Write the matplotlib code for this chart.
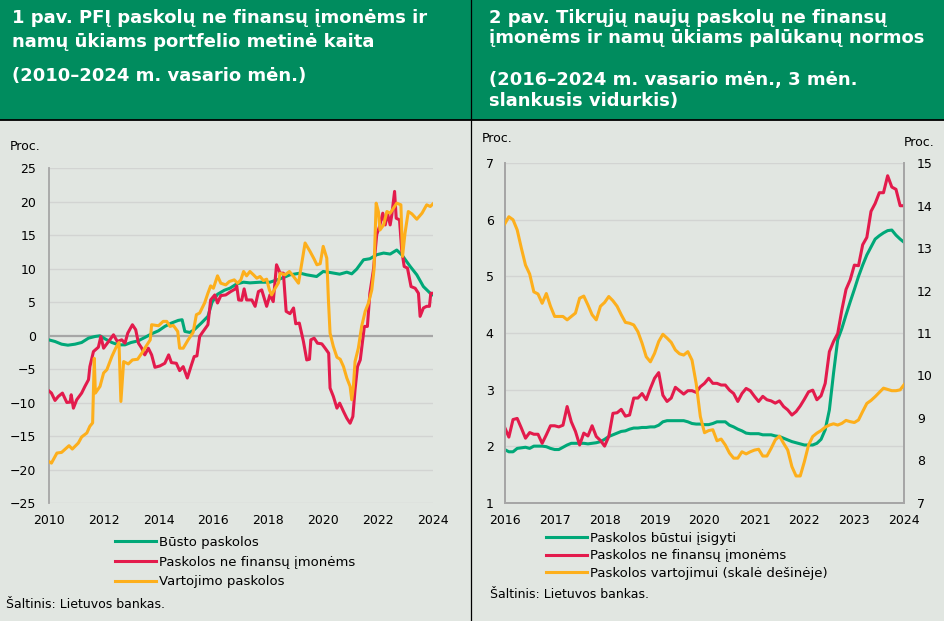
import matplotlib
matplotlib.use("Agg")
import matplotlib.pyplot as plt
from matplotlib.patches import Rectangle
from matplotlib.lines import Line2D

plt.rcParams['font.family'] = ['DejaVu Sans']

W, H = 945, 621

GREEN = '#00A878'
RED = '#E31B4C'
YELLOW = '#FDAF1C'
HEAD = '#008C5E'
BG = '#E1E6E1'
GRID = '#D2D4D2'
AXIS = '#A6A6A6'

# 1 pav. - metine kaita, proc.
busto_t = [2010.0, 2010.23, 2010.47, 2010.7, 2010.96, 2011.2, 2011.45, 2011.69, 2011.87, 2012.05,
           2012.3, 2012.54, 2012.78, 2013.0, 2013.26, 2013.5, 2013.75, 2014.0, 2014.23, 2014.47,
           2014.72, 2014.86, 2014.96, 2015.14, 2015.3, 2015.56, 2015.8, 2015.95, 2016.15, 2016.4,
           2016.6, 2016.85, 2017.1, 2017.33, 2017.7, 2018.06, 2018.43, 2018.79, 2019.16, 2019.4,
           2019.76, 2020.0, 2020.25, 2020.6, 2020.86, 2021.04, 2021.22, 2021.47, 2021.7, 2021.95,
           2022.2, 2022.44, 2022.68, 2022.86, 2023.17, 2023.41, 2023.65, 2023.9, 2024.0]
busto_v = [-0.6, -0.85, -1.25, -1.4, -1.25, -1.0, -0.35, -0.1, 0.0, -0.45,
           -1.0, -1.35, -1.35, -1.0, -0.75, -0.25, 0.3, 0.75, 1.4, 1.9,
           2.3, 2.4, 0.65, 0.5, 0.9, 1.9, 2.9, 5.0, 6.2, 6.8,
           7.1, 7.75, 8.0, 7.9, 8.0, 8.0, 8.5, 9.1, 9.35, 9.1,
           8.85, 9.6, 9.45, 9.2, 9.5, 9.25, 9.95, 11.35, 11.5, 12.1,
           12.35, 12.2, 12.8, 12.1, 10.35, 9.1, 7.35, 6.35, 6.1]

imones_t = [2010.0, 2010.1, 2010.23, 2010.35, 2010.5, 2010.66, 2010.78, 2010.82, 2010.9, 2011.02,
            2011.2, 2011.32, 2011.45, 2011.5, 2011.63, 2011.81, 2011.9, 2012.0, 2012.18, 2012.36,
            2012.5, 2012.66, 2012.78, 2012.88, 2013.05, 2013.17, 2013.27, 2013.39, 2013.5, 2013.63,
            2013.75, 2013.87, 2014.05, 2014.23, 2014.37, 2014.47, 2014.65, 2014.77, 2014.9, 2015.05,
            2015.2, 2015.3, 2015.4, 2015.5, 2015.6, 2015.8, 2015.9, 2016.05, 2016.15, 2016.27,
            2016.45, 2016.63, 2016.8, 2016.85, 2016.92, 2017.03, 2017.12, 2017.21, 2017.4, 2017.52,
            2017.64, 2017.76, 2017.94, 2018.06, 2018.18, 2018.3, 2018.43, 2018.55, 2018.65, 2018.79,
            2018.92, 2019.0, 2019.13, 2019.28, 2019.4, 2019.5, 2019.55, 2019.67, 2019.79, 2019.95,
            2020.07, 2020.2, 2020.25, 2020.37, 2020.5, 2020.6, 2020.74, 2020.86, 2020.98, 2021.08,
            2021.16, 2021.25, 2021.35, 2021.5, 2021.61, 2021.7, 2021.83, 2021.95, 2022.05, 2022.17,
            2022.26, 2022.34, 2022.44, 2022.5, 2022.6, 2022.66, 2022.78, 2022.86, 2022.95, 2023.07,
            2023.2, 2023.35, 2023.47, 2023.53, 2023.65, 2023.77, 2023.87, 2023.92, 2024.0]
imones_v = [-8.2, -8.55, -9.65, -9.05, -8.55, -9.95, -9.9, -8.8, -10.8, -9.55,
            -8.55, -7.55, -6.55, -4.6, -2.35, -1.7, -0.1, -1.85, -0.85, 0.15,
            -0.85, -0.6, -1.1, 0.4, 1.65, 0.9, -1.1, -1.85, -2.85, -1.85,
            -2.85, -4.7, -4.5, -4.1, -2.85, -4.0, -4.1, -5.2, -4.6, -6.3,
            -4.35, -3.1, -3.0, -0.1, 0.5, 1.65, 5.35, 6.1, 4.9, 6.0,
            6.1, 6.6, 7.0, 7.45, 5.35, 5.3, 7.0, 5.35, 5.35, 4.4,
            6.6, 6.85, 4.4, 6.1, 5.1, 10.6, 9.35, 9.35, 3.65, 3.3,
            4.15, 1.8, 1.9, -0.85, -3.6, -3.5, -0.6, -0.35, -1.1, -1.2,
            -1.85, -2.6, -7.8, -9.05, -10.8, -10.05, -11.3, -12.3, -13.05, -12.05,
            -8.05, -4.6, -3.6, 1.4, 1.4, 6.35, 9.85, 15.1, 16.3, 18.3,
            16.55, 18.3, 16.55, 18.05, 21.55, 17.55, 17.3, 12.8, 10.35, 10.1,
            7.35, 7.1, 6.35, 2.9, 4.15, 4.4, 4.4, 6.35, 6.35]

vartojimo_t = [2010.0, 2010.1, 2010.3, 2010.47, 2010.74, 2010.86, 2011.08, 2011.2, 2011.39, 2011.5,
               2011.6, 2011.66, 2011.7, 2011.87, 2012.0, 2012.12, 2012.3, 2012.44, 2012.56, 2012.63,
               2012.73, 2012.9, 2013.05, 2013.24, 2013.39, 2013.54, 2013.7, 2013.75, 2014.0, 2014.17,
               2014.3, 2014.42, 2014.54, 2014.7, 2014.77, 2014.9, 2015.08, 2015.26, 2015.38, 2015.5,
               2015.68, 2015.8, 2015.9, 2016.0, 2016.15, 2016.27, 2016.45, 2016.58, 2016.76, 2016.88,
               2017.0, 2017.1, 2017.21, 2017.33, 2017.46, 2017.58, 2017.7, 2017.82, 2017.94, 2018.04,
               2018.12, 2018.25, 2018.37, 2018.43, 2018.61, 2018.77, 2018.92, 2019.1, 2019.22, 2019.34,
               2019.52, 2019.67, 2019.77, 2019.89, 2020.0, 2020.13, 2020.19, 2020.25, 2020.37, 2020.5,
               2020.62, 2020.74, 2020.86, 2020.98, 2021.04, 2021.1, 2021.16, 2021.28, 2021.4, 2021.53,
               2021.65, 2021.77, 2021.85, 2021.93, 2022.01, 2022.07, 2022.2, 2022.32, 2022.44, 2022.56,
               2022.68, 2022.83, 2022.89, 2022.98, 2023.1, 2023.23, 2023.41, 2023.6, 2023.77, 2023.9,
               2024.0]
vartojimo_v = [-18.75, -19.0, -17.5, -17.4, -16.4, -16.9, -16.0, -15.1, -14.5, -13.5,
               -13.0, -3.35, -8.55, -7.55, -5.55, -5.05, -3.1, -1.85, -1.0, -9.8,
               -3.85, -4.2, -3.6, -3.5, -2.6, -1.6, -0.6, 1.65, 1.5, 2.15,
               2.15, 1.4, 1.55, 0.65, -1.85, -1.85, -0.6, 0.5, 3.15, 3.4,
               4.9, 6.35, 7.45, 7.1, 8.95, 7.85, 7.6, 8.1, 8.35, 7.85,
               8.35, 9.6, 8.95, 9.6, 9.1, 8.6, 8.85, 8.25, 8.45, 6.85,
               6.1, 7.1, 7.9, 9.35, 9.1, 9.6, 8.85, 7.85, 10.85, 13.85,
               12.6, 11.45, 10.6, 10.75, 13.35, 11.6, 5.35, 0.4, -1.6, -3.2,
               -3.5, -4.6, -6.3, -7.55, -9.55, -7.55, -3.85, -1.85, 1.4, 3.65,
               4.9, 6.85, 9.85, 19.8, 18.55, 15.8, 16.55, 18.55, 18.3, 19.05,
               19.8, 19.55, 11.85, 15.3, 18.55, 18.2, 17.4, 18.3, 19.55, 19.3,
               19.7]

# 2 pav. - palukanu normos, menesiniai duomenys nuo 2016-01
busto2 = [1.94, 1.9, 1.9, 1.96, 1.97, 1.98, 1.96, 2.0, 2.0, 2.0, 1.99, 1.96,
          1.94, 1.94, 1.98, 2.02, 2.05, 2.05, 2.05, 2.05, 2.04, 2.05, 2.06, 2.08,
          2.12, 2.17, 2.2, 2.23, 2.26, 2.27, 2.3, 2.32, 2.32, 2.33, 2.33, 2.34,
          2.34, 2.37, 2.43, 2.45, 2.45, 2.45, 2.45, 2.45, 2.43, 2.4, 2.39, 2.39,
          2.38, 2.38, 2.4, 2.43, 2.43, 2.43, 2.37, 2.34, 2.3, 2.27, 2.23, 2.22,
          2.22, 2.22, 2.2, 2.2, 2.2, 2.18, 2.17, 2.14, 2.11, 2.08, 2.06, 2.04,
          2.02, 2.02, 2.02, 2.05, 2.12, 2.29, 2.64, 3.29, 3.88, 4.08, 4.32, 4.55,
          4.77, 5.0, 5.2, 5.38, 5.52, 5.66, 5.72, 5.77, 5.81, 5.82, 5.73, 5.66,
          5.6]
imones2 = [2.33, 2.16, 2.47, 2.49, 2.32, 2.14, 2.24, 2.21, 2.21, 2.05, 2.2, 2.36,
           2.36, 2.34, 2.37, 2.7, 2.43, 2.26, 2.02, 2.23, 2.18, 2.36, 2.17, 2.1,
           2.0, 2.17, 2.58, 2.59, 2.65, 2.53, 2.55, 2.85, 2.85, 2.93, 2.82, 3.02,
           3.2, 3.3, 2.9, 2.79, 2.85, 3.04, 2.98, 2.92, 2.98, 2.98, 2.95, 3.05,
           3.11, 3.2, 3.11, 3.11, 3.08, 3.08, 2.99, 2.93, 2.79, 2.93, 3.02, 2.98,
           2.88, 2.79, 2.88, 2.82, 2.8, 2.76, 2.8, 2.7, 2.64, 2.55, 2.61, 2.71,
           2.83, 2.96, 2.99, 2.82, 2.89, 3.11, 3.67, 3.85, 3.99, 4.41, 4.77, 4.94,
           5.2, 5.19, 5.56, 5.69, 6.15, 6.29, 6.48, 6.48, 6.78, 6.58, 6.54, 6.25,
           6.25]
vartojimui2 = [13.57, 13.74, 13.67, 13.43, 13.0, 12.6, 12.39, 11.97, 11.92, 11.7, 11.93, 11.63,
               11.39, 11.39, 11.39, 11.31, 11.39, 11.47, 11.82, 11.87, 11.66, 11.43, 11.31, 11.63,
               11.72, 11.86, 11.76, 11.63, 11.43, 11.25, 11.23, 11.19, 11.03, 10.76, 10.44, 10.32,
               10.52, 10.8, 10.97, 10.88, 10.78, 10.6, 10.51, 10.48, 10.56, 10.36, 9.81, 9.03,
               8.65, 8.7, 8.72, 8.46, 8.5, 8.36, 8.17, 8.05, 8.05, 8.2, 8.15, 8.2,
               8.24, 8.26, 8.1, 8.1, 8.28, 8.48, 8.57, 8.4, 8.24, 7.85, 7.63, 7.63,
               7.97, 8.36, 8.56, 8.64, 8.7, 8.78, 8.83, 8.86, 8.83, 8.87, 8.94, 8.91,
               8.89, 8.95, 9.15, 9.34, 9.41, 9.5, 9.6, 9.7, 9.67, 9.64, 9.64, 9.66,
               9.79]
months2 = [2016 + i / 12 for i in range(len(busto2))]

left_ticks_x = list(range(2010, 2025, 2))
left_ticks_y = list(range(-25, 26, 5))
right_ticks_x = list(range(2016, 2025))
right_ticks_y = list(range(1, 8))
right_ticks_y2 = list(range(7, 16))


def fx(px):
    return px / W


def fy(py):
    return 1 - py / H


fig = plt.figure(figsize=(W / 100, H / 100), dpi=100)
fig.patch.set_facecolor(BG)

# antrastes juosta
fig.add_artist(Rectangle((0, fy(119.5)), 1, 1 - fy(119.5), transform=fig.transFigure,
                         facecolor=HEAD, edgecolor='none', zorder=0))
fig.add_artist(Line2D([0, 1], [fy(119.5), fy(119.5)], transform=fig.transFigure,
                      color='black', lw=1.3))
fig.add_artist(Line2D([fx(471), fx(471)], [0, 1], transform=fig.transFigure,
                      color='black', lw=0.9))

hkw = dict(color='white', fontsize=13, fontweight='bold', va='center', ha='left')
fig.text(fx(12), fy(18), '1 pav. PFĮ paskolų ne finansų įmonėms ir', **hkw)
fig.text(fx(12), fy(42), 'namų ūkiams portfelio metinė kaita', **hkw)
fig.text(fx(12), fy(76), '(2010–2024 m. vasario mėn.)', **hkw)
fig.text(fx(489), fy(18), '2 pav. Tikrųjų naujų paskolų ne finansų', **hkw)
fig.text(fx(489), fy(38), 'įmonėms ir namų ūkiams palūkanų normos', **hkw)
fig.text(fx(489), fy(80), '(2016–2024 m. vasario mėn., 3 mėn.', **hkw)
fig.text(fx(489), fy(101), 'slankusis vidurkis)', **hkw)

# ---- 1 pav.
ax1 = fig.add_axes([fx(48.7), fy(503.3), fx(433 - 48.7), (503.3 - 168.3) / H])
ax1.set_facecolor('none')
for y in left_ticks_y:
    if y != 0:
        ax1.axhline(y, color=GRID, lw=1, zorder=0)
ax1.axhline(0, color=AXIS, lw=1.6, zorder=1)
k1, = ax1.plot(busto_t, busto_v, color=GREEN, lw=2.2, label='Būsto paskolos', zorder=3)
k2, = ax1.plot(imones_t, imones_v, color=RED, lw=2.2, label='Paskolos ne finansų įmonėms', zorder=4)
k3, = ax1.plot(vartojimo_t, vartojimo_v, color=YELLOW, lw=2.2, label='Vartojimo paskolos', zorder=5)
ax1.set_xlim(2010, 2024)
ax1.set_ylim(-25, 25)
ax1.set_xticks(left_ticks_x)
ax1.set_yticks(left_ticks_y)
ax1.set_yticklabels([str(v).replace('-', '−') for v in left_ticks_y])
for s in ['top', 'right', 'bottom']:
    ax1.spines[s].set_visible(False)
ax1.spines['left'].set_color(AXIS)
ax1.spines['left'].set_linewidth(1.3)
ax1.tick_params(axis='y', length=0, pad=9, labelsize=9)
ax1.tick_params(axis='x', length=0, pad=7.5, labelsize=9)
fig.text(fx(10), fy(146.5), 'Proc.', fontsize=9, va='center', ha='left')
fig.legend(handles=[k1, k2, k3], loc='upper left',
           bbox_to_anchor=(fx(115), fy(536)), frameon=False, fontsize=9.5,
           handlelength=3.1, handletextpad=0.25, labelspacing=0.5,
           borderpad=0, borderaxespad=0)
fig.text(fx(6), fy(605), 'Šaltinis: Lietuvos bankas.', fontsize=9, va='center', ha='left')

# ---- 2 pav.
ax2 = fig.add_axes([fx(504.7), fy(502.7), fx(904.3 - 504.7), (502.7 - 163.3) / H])
ax2.set_facecolor('none')
for y in right_ticks_y[1:]:
    ax2.axhline(y, color=GRID, lw=1, zorder=0)
l1, = ax2.plot(months2, busto2, color=GREEN, lw=2.2, label='Paskolos būstui įsigyti', zorder=3)
l2, = ax2.plot(months2, imones2, color=RED, lw=2.2, label='Paskolos ne finansų įmonėms', zorder=4)
ax2.set_xlim(2016, 2024)
ax2.set_ylim(1, 7)
ax2.set_xticks(right_ticks_x)
ax2.set_yticks(right_ticks_y)
ax3 = ax2.twinx()
l3, = ax3.plot(months2, vartojimui2, color=YELLOW, lw=2.2,
               label='Paskolos vartojimui (skalė dešinėje)', zorder=5)
ax3.set_ylim(7, 15)
ax3.set_yticks(right_ticks_y2)
for a in (ax2, ax3):
    a.spines['top'].set_visible(False)
    for s in ['left', 'right', 'bottom']:
        a.spines[s].set_color(AXIS)
        a.spines[s].set_linewidth(1.3)
ax2.tick_params(axis='y', length=0, pad=8, labelsize=9)
ax2.tick_params(axis='x', length=0, pad=8, labelsize=9)
ax3.tick_params(axis='y', length=0, pad=9, labelsize=9)
fig.text(fx(482), fy(138), 'Proc.', fontsize=9, va='center', ha='left')
fig.text(fx(935), fy(143), 'Proc.', fontsize=9, va='center', ha='right')
fig.legend(handles=[l1, l2, l3], loc='upper left',
           bbox_to_anchor=(fx(546), fy(532)), frameon=False, fontsize=9.5,
           handlelength=3.1, handletextpad=0.25, labelspacing=0.33,
           borderpad=0, borderaxespad=0)
fig.text(fx(490), fy(595), 'Šaltinis: Lietuvos bankas.', fontsize=9, va='center', ha='left')

fig.savefig('out.png', dpi=100, facecolor=fig.get_facecolor())
